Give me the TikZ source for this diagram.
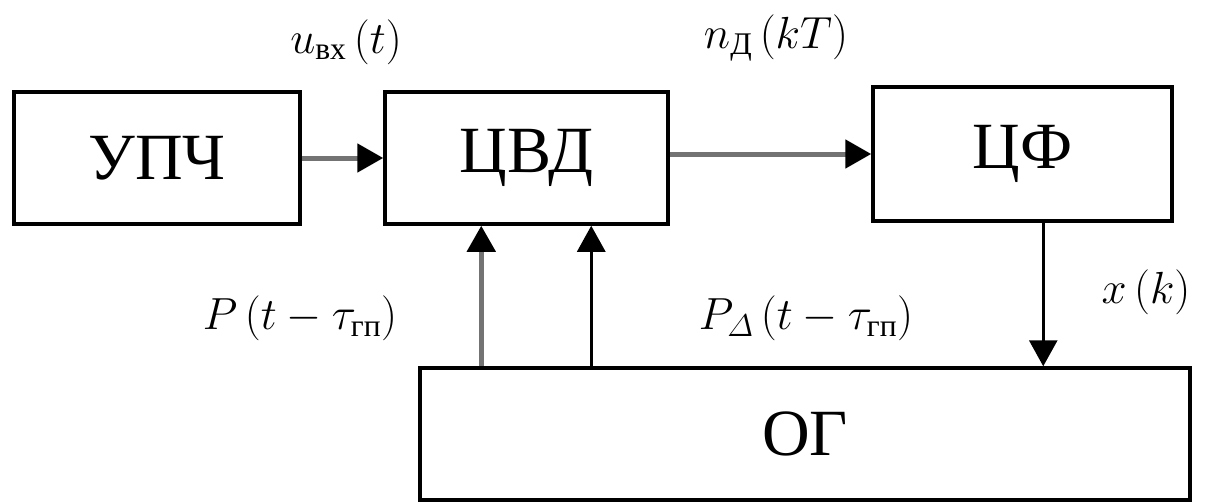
\RequirePackage{fix-cm}
\documentclass[tikz,border=0pt]{standalone}
\usepackage{fontspec}
\usepackage{amsmath}
\usetikzlibrary{arrows.meta,calc}
\newfontfamily\boxfont{Liberation Serif}
\newfontfamily\cyrsub{Liberation Serif}
\newcommand{\sub}[1]{\text{\cyrsub #1}}
\tikzset{
  blk/.style={draw=black, line width=3.5pt, inner sep=0pt,
    font=\boxfont\fontsize{66}{66}\selectfont},
  garrow/.style={draw=black!55, line width=5pt,
    -{Triangle[length=26pt,width=28pt,fill=black,color=black]}},
  barrow/.style={draw=black, line width=3pt,
    -{Triangle[length=26pt,width=28pt,fill=black]}},
  lbl/.style={font=\fontsize{45}{50}\selectfont, inner sep=0pt}
}
\begin{document}
\begin{tikzpicture}[x=1pt,y=-1pt]
  \useasboundingbox (0,0) rectangle (1205,503);
  % blocks
  \node[blk, minimum width=286pt, minimum height=132pt] (upch) at (157,158) {УПЧ};
  \node[blk, minimum width=283pt, minimum height=132pt] (cvd) at (526.5,158) {ЦВД};
  \node[blk, minimum width=299pt, minimum height=134pt] (cf) at (1022.5,154) {ЦФ};
  \node[blk, minimum width=770pt, minimum height=132pt] (og) at (805,434) {ОГ};
  % signal paths
  \draw[garrow] (upch.east) -- (cvd.west);
  \draw[garrow] (cf.west -| cvd.east) -- (cf.west);
  \draw[garrow] ($(og.north west)+(63,0)$) -- ($(cvd.south west)+(98,0)$);
  \draw[barrow] ($(og.north west)+(173,0)$) -- ($(cvd.south west)+(208,0)$);
  \draw[barrow] ($(cf.south west)+(172,0)$) -- ($(og.north west)+(625,0)$);
  % signal labels
  \node[lbl] (uin) at (346,42) {$u_{\sub{вх}}\,(t)$};
  \node[lbl] (nd) at (776,38) {$n_{\sub{Д}}\,(kT)$};
  \node[lbl] (p1) at (300,318) {$P\,(t-\tau_{\sub{гп}})$};
  \node[lbl] (p2) at (806,318) {$P_{\varDelta}\,(t-\tau_{\sub{гп}})$};
  \node[lbl] (xk) at (1146,292) {$x\,(k)$};
\end{tikzpicture}
\end{document}
